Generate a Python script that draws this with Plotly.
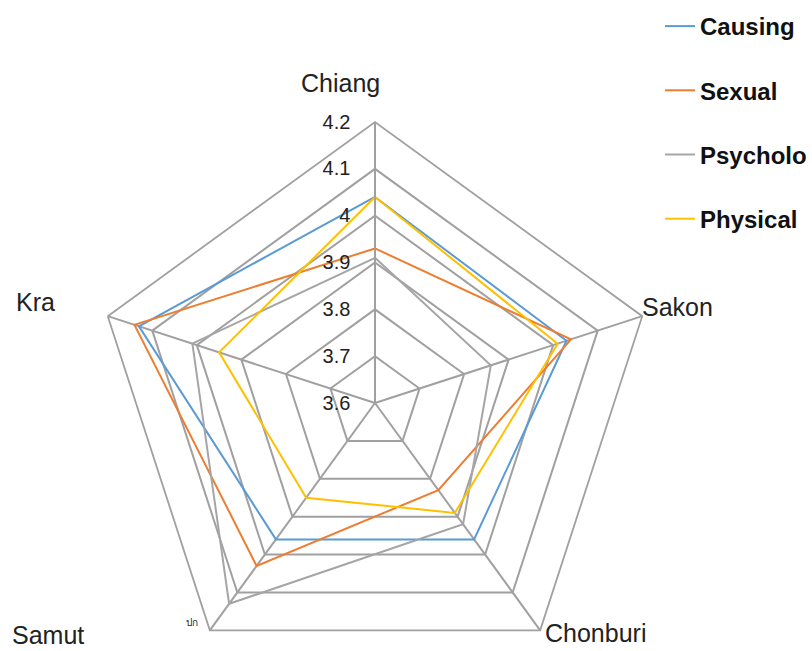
import plotly.graph_objects as go

categories = ["Chiang", "Sakon", "Chonburi", "Samut", "Kra"]
causing = [4.04, 4.03, 3.96, 3.96, 4.13]
sexual = [3.93, 4.04, 3.83, 4.03, 4.14]
psycholo = [3.91, 3.86, 3.92, 4.13, 4.01]
physical = [4.04, 4.01, 3.89, 3.85, 3.95]
series_names = ["Causing", "Sexual", "Psycholo", "Physical"]
series_values = [causing, sexual, psycholo, physical]
colors = ["#5B9BD5", "#ED7D31", "#A5A5A5", "#FFC000"]
radial_range = [3.6, 4.2]

W, H = 812, 700
fig = go.Figure()
for i, (name, vals, col) in enumerate(zip(series_names, series_values, colors)):
    fig.add_trace(go.Scatterpolar(
        r=vals + vals[:1], theta=categories + categories[:1],
        mode="lines", name=name, legendgroup=name,
        line=dict(color=col, width=2),
    ))

cx, cy, R = 375, 403, 281
fig.update_layout(
    width=W, height=H,
    margin=dict(l=0, r=0, t=0, b=0),
    paper_bgcolor="white", plot_bgcolor="white",
    font=dict(family="Liberation Sans, Arial, sans-serif", color="#222"),
    polar=dict(
        domain=dict(x=[(cx - R) / W, (cx + R) / W],
                    y=[1 - (cy + R) / H, 1 - (cy - R) / H]),
        bgcolor="white",
        gridshape="linear",
        radialaxis=dict(range=radial_range, dtick=0.1, tick0=3.6,
                        angle=90, tickangle=90, side="counterclockwise",
                        ticksuffix="\u00a0\u00a0\u00a0",
                        showline=True, linecolor="#A0A0A0", linewidth=1.8,
                        gridcolor="#A0A0A0", gridwidth=1.8,
                        ticks="", tickfont=dict(size=20, color="#222")),
        angularaxis=dict(direction="clockwise", rotation=90,
                         showticklabels=False, ticks="",
                         showline=True, linecolor="#A0A0A0", linewidth=1.8,
                         gridcolor="#A0A0A0", gridwidth=1.8),
    ),
    legend=dict(x=660 / W, y=1 - 4 / H, xanchor="left", yanchor="top",
                font=dict(size=24, color="#111",
                          family="Liberation Sans, Arial, sans-serif", weight="bold"),
                tracegroupgap=30, bgcolor="rgba(0,0,0,0)", itemwidth=30),
)

label_pos = [(340, 83), (677, 307), (595, 633), (48, 635), (35, 302)]
for cat, (px, py) in zip(categories, label_pos):
    fig.add_annotation(text=cat, x=px / W, y=1 - py / H, xref="paper", yref="paper",
                       showarrow=False, font=dict(size=25, color="#222"),
                       xanchor="center", yanchor="middle")
fig.add_annotation(text="ปก", x=192 / W, y=1 - 622 / H, xref="paper", yref="paper",
                   showarrow=False, font=dict(size=10, color="#223"),
                   xanchor="center", yanchor="middle")

fig.write_html("out.html",
               post_script="document.documentElement.style.overflow='hidden';document.body.style.overflow='hidden';")
